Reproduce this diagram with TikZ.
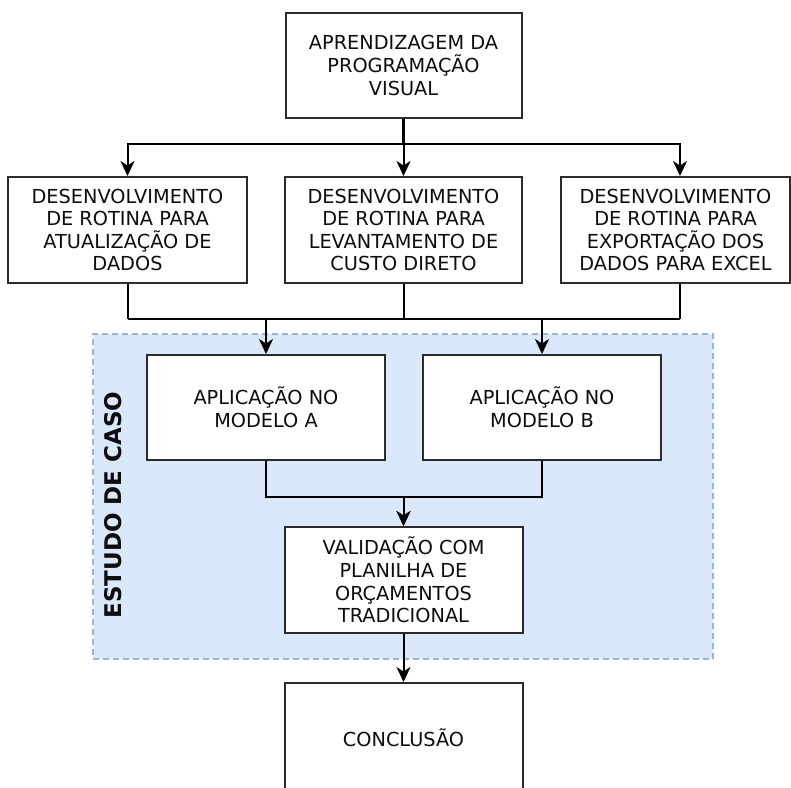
\documentclass[tikz,border=0pt]{standalone}
\usepackage{fontspec}
\setmainfont{DejaVu Sans}
\usetikzlibrary{arrows.meta,calc}
\definecolor{boxline}{HTML}{2B2B2B}
\definecolor{txt}{HTML}{0D0D0D}
\definecolor{regfill}{HTML}{DAE8FC}
\definecolor{regline}{HTML}{9DB2D6}
\tikzset{
  proc/.style={draw=boxline, line width=2pt, fill=white, align=center,
    inner sep=0pt, text=txt, font=\fontsize{19.3}{22.6}\selectfont},
  conn/.style={line width=2pt, draw=black},
  arr/.style={conn, -{Stealth[length=15pt,width=14pt,inset=4.5pt]}},
}
\begin{document}
\begin{tikzpicture}[x=1pt,y=1pt]
\useasboundingbox (0,0) rectangle (791,-787);
\fill[white] (0,0) rectangle (791,-787);
% region
\node[draw=regline, fill=regfill, line width=1.6pt, dash pattern=on 6pt off 4pt,
  minimum width=620pt, minimum height=325pt, inner sep=0pt] (reg) at (403,-496.5) {};
\node[rotate=90, font=\fontsize{23}{26}\selectfont\bfseries, text=txt] (lab) at (113,-505) {ESTUDO DE CASO};
% boxes
\node[proc, minimum width=236pt, minimum height=105pt] (top) at (403.5,-65.5) {APRENDIZAGEM DA\\PROGRAMAÇÃO\\VISUAL};
\node[proc, minimum width=239pt, minimum height=106pt] (d1) at (127.5,-230) {DESENVOLVIMENTO\\DE ROTINA PARA\\ATUALIZAÇÃO DE\\DADOS};
\node[proc, minimum width=237pt, minimum height=106pt] (d2) at (403.5,-230) {DESENVOLVIMENTO\\DE ROTINA PARA\\LEVANTAMENTO DE\\CUSTO DIRETO};
\node[proc, minimum width=229pt, minimum height=106pt] (d3) at (675.5,-230) {DESENVOLVIMENTO\\DE ROTINA PARA\\EXPORTAÇÃO DOS\\DADOS PARA EXCEL};
\node[proc, minimum width=238pt, minimum height=105pt] (a) at (266,-407.5) {APLICAÇÃO NO\\MODELO A};
\node[proc, minimum width=238pt, minimum height=105pt] (b) at (542,-407.5) {APLICAÇÃO NO\\MODELO B};
\node[proc, minimum width=238pt, minimum height=106pt] (v) at (403.5,-580) {VALIDAÇÃO COM\\PLANILHA DE\\ORÇAMENTOS\\TRADICIONAL};
\node[proc, minimum width=238pt, minimum height=110pt] (c) at (403.5,-738) {CONCLUSÃO};
% connectors
\coordinate (j1) at (403.5,-144);
\draw[conn, line width=3pt] (top.south) -- (j1);
\draw[arr] (j1) -| (d1.north);
\draw[arr] (j1) -| ($(d3.north)+(4.5,0)$);
\draw[arr] (j1) -- (d2.north);
\draw[conn] (d1.south) -- ++(0,-35) coordinate (j2);
\draw[conn] ($(d3.south)+(4.5,0)$) -- ++(0,-35) coordinate (j3);
\draw[conn] (d2.south) -- ++(0,-35);
\draw[conn] (j2) -- (j3);
\draw[arr] (j2 -| a.north) -- (a.north);
\draw[arr] (j2 -| b.north) -- (b.north);
\draw[arr] (a.south) -- ++(0,-35.5) -| (v.north);
\draw[arr] (b.south) -- ++(0,-35.5) -| (v.north);
\draw[arr] (v.south) -- (c.north);
\end{tikzpicture}
\end{document}
